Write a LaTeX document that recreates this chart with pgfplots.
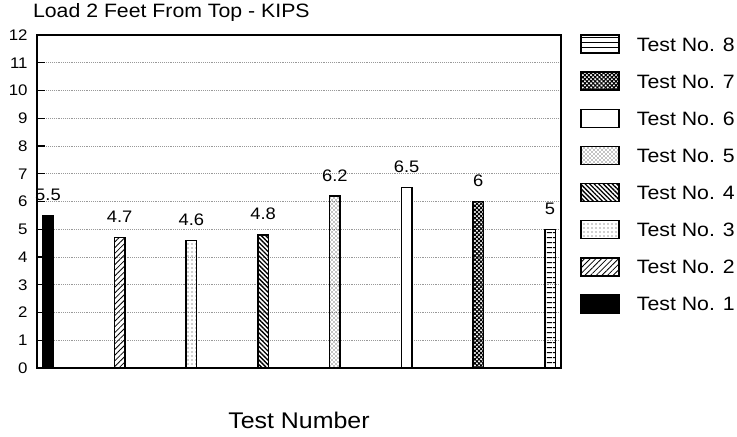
\documentclass[border=0pt]{standalone}
\usepackage{fontspec}
\setmainfont{Liberation Sans}[FakeStretch=1.1]
\usepackage{pgfplots}
\pgfplotsset{compat=1.18}
\usetikzlibrary{patterns,patterns.meta}
\pgfplotsset{
  mybar/.style={ybar, bar width=7.8pt, draw=black, line width=1.1pt,
    legend image code/.code={\draw[##1, line width=1.1pt] (0pt,-6.75pt) rectangle (28.5pt,6.75pt);}}
}
\begin{document}
\begin{tikzpicture}
\useasboundingbox (-27.75pt,-51pt) rectangle (525pt,276pt);
\begin{axis}[
  at={(0,0)}, anchor=south west,
  scale only axis, width=393pt, height=249.75pt,
  xmin=0.847, xmax=8.153, ymin=0, ymax=12,
  xtick=\empty, ytick={0,1,...,12}, ytick pos=left,
  tick align=inside, major tick length=6pt,
  tick style={black, line width=0.8pt},
  axis line style={line width=1.1pt},
  ymajorgrids, major grid style={densely dotted, black!40, line width=0.5pt},
  yticklabel style={font=\fontsize{11.5}{12}\selectfont, xshift=-3.5pt},
  /pgf/number format/assume math mode=true,
  title={Load 2 Feet From Top - KIPS},
  title style={at={(axis description cs:-0.008,1.03)}, anchor=base west, inner sep=0pt, font=\fontsize{14.5}{16}\selectfont},
  xlabel={Test Number},
  xlabel style={at={(axis description cs:0.5,0)}, anchor=base, yshift=-45pt, inner sep=0pt, font=\fontsize{17}{19}\selectfont},
  nodes near coords,
  every node near coord/.append style={font=\fontsize{12.5}{13}\selectfont, inner sep=0pt, yshift=10.5pt, black},
  legend style={at={(axis description cs:1.036,1.003)}, anchor=north west, draw=none, fill=none, inner sep=0pt,
    row sep=13.25pt, column sep=13pt, font=\fontsize{14.5}{16}\selectfont,
    nodes={inner sep=0pt, text height=10.5pt, text depth=0pt}},
  legend cell align=left,
  reverse legend,
]
\addplot[mybar, fill=black] coordinates {(1,5.5)};
\addlegendentry{Test No. 1}
\addplot[mybar, pattern={Lines[angle=45, distance=3pt, line width=0.6pt]}] coordinates {(2,4.7)};
\addlegendentry{Test No. 2}
\addplot[mybar, pattern=dots, pattern color=black!80] coordinates {(3,4.6)};
\addlegendentry{Test No. 3}
\addplot[mybar, pattern={Lines[angle=-45, distance=2.4pt, line width=1pt]}] coordinates {(4,4.8)};
\addlegendentry{Test No. 4}
\addplot[mybar, pattern=crosshatch dots] coordinates {(5,6.2)};
\addlegendentry{Test No. 5}
\addplot[mybar, fill=white] coordinates {(6,6.5)};
\addlegendentry{Test No. 6}
\addplot[mybar, pattern={Hatch[angle=45, distance=2.2pt, line width=0.8pt]}] coordinates {(7,6)};
\addlegendentry{Test No. 7}
\addplot[mybar, pattern={Lines[angle=0, distance=4pt, line width=0.7pt]}] coordinates {(8,5)};
\addlegendentry{Test No. 8}
\end{axis}
\end{tikzpicture}
\end{document}
